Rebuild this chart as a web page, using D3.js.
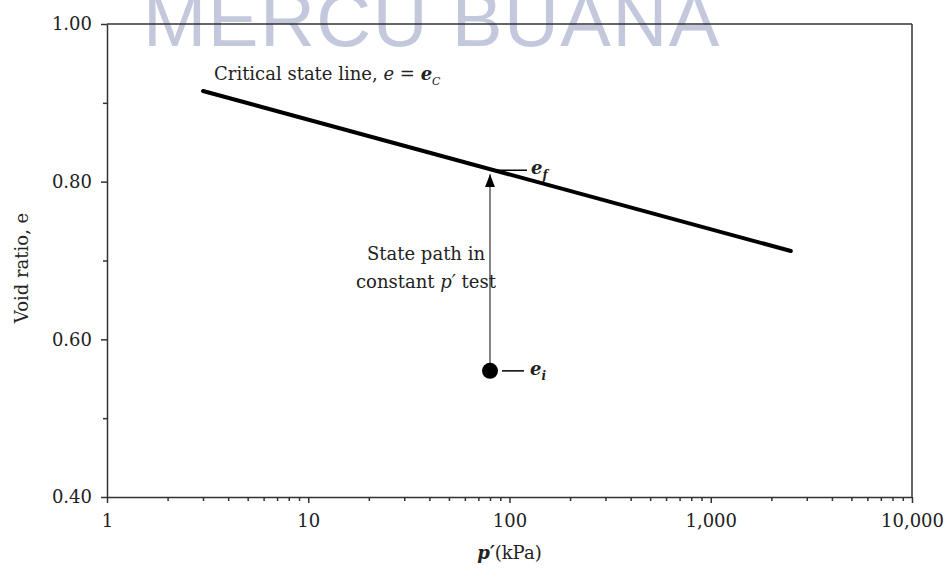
<!DOCTYPE html>
<html>
<head>
<meta charset="utf-8">
<script src="https://cdn.jsdelivr.net/npm/d3@7"></script>
<style>
  body { margin: 0; background: #fff; }
  svg text { font-family: "DejaVu Serif", "Liberation Serif", serif; fill: #222; }
</style>
</head>
<body>
<div id="container"></div>
<script>
// Critical state line (p' in kPa, void ratio e)
const cslP = [3, 2500];
const cslE = [0.915, 0.712];

// Constant p' test: initial state
const testP = 80;
const testE = 0.56;

// Axis ticks
const xTicks = [1, 10, 100, 1000, 10000];
const xTickLabels = ['1', '10', '100', '1,000', '10,000'];
const yTicks = [0.40, 0.60, 0.80, 1.00];
const yMinorTicks = [0.50, 0.70, 0.90];

const width = 949;
const height = 570;
const margin = { top: 24, right: 37, bottom: 73, left: 107 };
const fontSize = '18px';

const svg = d3.select('#container').append('svg')
    .attr('width', width)
    .attr('height', height);

// watermark (cut at the top edge, as in the source)
svg.append('text')
    .attr('x', 432)
    .attr('y', 46)
    .attr('text-anchor', 'middle')
    .style('font-family', '"Liberation Sans", Arial, sans-serif')
    .style('font-size', '76px')
    .style('fill', '#c4c8dd')
    .style('letter-spacing', '1.5px')
    .text('MERCU BUANA');

const xScale = d3.scaleLog()
    .domain([1, 10000])
    .range([margin.left, width - margin.right]);

const yScale = d3.scaleLinear()
    .domain([0.40, 1.00])
    .range([height - margin.bottom, margin.top]);

const axisColor = '#333';

// frame: top and right
svg.append('line')
    .attr('x1', margin.left).attr('x2', width - margin.right)
    .attr('y1', margin.top).attr('y2', margin.top)
    .attr('stroke', axisColor).attr('stroke-width', 1.5);
svg.append('line')
    .attr('x1', width - margin.right).attr('x2', width - margin.right)
    .attr('y1', margin.top).attr('y2', height - margin.bottom)
    .attr('stroke', axisColor).attr('stroke-width', 1.5);

// X axis with minor ticks
const minorX = [];
[1, 10, 100, 1000].forEach(d => { for (let k = 2; k <= 9; k++) minorX.push(d * k); });

svg.append('g')
    .attr('transform', 'translate(0,' + (height - margin.bottom) + ')')
    .call(d3.axisBottom(xScale).tickValues(minorX).tickSize(4).tickFormat(''))
    .call(g => g.select('.domain').remove())
    .selectAll('line').attr('stroke', axisColor).attr('stroke-width', 1.5);

const xAxis = svg.append('g')
    .attr('transform', 'translate(0,' + (height - margin.bottom) + ')')
    .call(d3.axisBottom(xScale).tickValues(xTicks).tickSize(6).tickSizeOuter(0)
        .tickPadding(11)
        .tickFormat((d, i) => xTickLabels[i]));
xAxis.select('.domain').attr('stroke', axisColor).attr('stroke-width', 1.5);
xAxis.selectAll('line').attr('stroke', axisColor).attr('stroke-width', 1.5);
xAxis.selectAll('text').style('font-size', fontSize).style('fill', '#222');

// Y axis with minor ticks
svg.append('g')
    .attr('transform', 'translate(' + margin.left + ',0)')
    .call(d3.axisLeft(yScale).tickValues(yMinorTicks).tickSize(4).tickFormat(''))
    .call(g => g.select('.domain').remove())
    .selectAll('line').attr('stroke', axisColor).attr('stroke-width', 1.5);

const yAxis = svg.append('g')
    .attr('transform', 'translate(' + margin.left + ',0)')
    .call(d3.axisLeft(yScale).tickValues(yTicks).tickSize(6).tickSizeOuter(0)
        .tickPadding(9)
        .tickFormat(d3.format('.2f')));
yAxis.select('.domain').attr('stroke', axisColor).attr('stroke-width', 1.5);
yAxis.selectAll('line').attr('stroke', axisColor).attr('stroke-width', 1.5);
yAxis.selectAll('text').style('font-size', fontSize).style('fill', '#222');

// Axis titles
const xTitle = svg.append('text')
    .attr('x', xScale(100))
    .attr('y', 559)
    .attr('text-anchor', 'middle')
    .style('font-size', fontSize);
xTitle.append('tspan').style('font-style', 'italic').style('font-weight', 'bold').text('p′');
xTitle.append('tspan').text('(kPa)');

svg.append('text')
    .attr('transform', 'rotate(-90)')
    .attr('x', -268)
    .attr('y', 28)
    .attr('text-anchor', 'middle')
    .style('font-size', fontSize)
    .text('Void ratio, e');

// Critical state line
const cslData = cslP.map((p, i) => [p, cslE[i]]);
svg.append('path')
    .datum(cslData)
    .attr('d', d3.line().x(d => xScale(d[0])).y(d => yScale(d[1])))
    .attr('fill', 'none')
    .attr('stroke', '#000')
    .attr('stroke-width', 4)
    .attr('stroke-linecap', 'round');

const cslLabel = svg.append('text')
    .attr('x', 214)
    .attr('y', 80)
    .style('font-size', fontSize);
cslLabel.append('tspan').text('Critical state line, ');
cslLabel.append('tspan').style('font-style', 'italic').text('e');
cslLabel.append('tspan').text(' = ');
cslLabel.append('tspan').style('font-style', 'italic').style('font-weight', 'bold').text('e');
cslLabel.append('tspan').attr('dy', 5).style('font-size', '11px').style('font-style', 'italic').text('C');

// final void ratio on the CSL at p' = testP
const slope = (cslE[1] - cslE[0]) / (Math.log10(cslP[1]) - Math.log10(cslP[0]));
const finalE = cslE[0] + slope * (Math.log10(testP) - Math.log10(cslP[0]));

// arrow head, pointing along the path direction
svg.append('defs').append('marker')
    .attr('id', 'arrow')
    .attr('viewBox', '0 0 13 10')
    .attr('refX', 13).attr('refY', 5)
    .attr('markerWidth', 13).attr('markerHeight', 10)
    .attr('markerUnits', 'userSpaceOnUse')
    .attr('orient', 'auto')
    .append('path')
    .attr('d', 'M0,0 L13,5 L0,10 Z')
    .attr('fill', '#000');

// State path
svg.append('line')
    .attr('x1', xScale(testP)).attr('x2', xScale(testP))
    .attr('y1', yScale(testE)).attr('y2', yScale(finalE) + 5)
    .attr('stroke', '#333')
    .attr('stroke-width', 1.2)
    .attr('marker-end', 'url(#arrow)');

svg.append('circle')
    .attr('cx', xScale(testP))
    .attr('cy', yScale(testE))
    .attr('r', 8)
    .attr('fill', '#000');

// e_f leader and label
svg.append('line')
    .attr('x1', xScale(testP) + 4).attr('x2', xScale(testP) + 37)
    .attr('y1', yScale(finalE) + 1).attr('y2', yScale(finalE) + 1)
    .attr('stroke', '#000').attr('stroke-width', 1.5);
const efLabel = svg.append('text')
    .attr('x', xScale(testP) + 41)
    .attr('y', yScale(finalE) + 5)
    .style('font-size', fontSize)
    .style('font-style', 'italic')
    .style('font-weight', 'bold');
efLabel.append('tspan').text('e');
efLabel.append('tspan').attr('dy', 5).style('font-size', '12px').text('f');

// e_i leader and label
svg.append('line')
    .attr('x1', xScale(testP) + 12).attr('x2', xScale(testP) + 34)
    .attr('y1', yScale(testE)).attr('y2', yScale(testE))
    .attr('stroke', '#000').attr('stroke-width', 1.5);
const eiLabel = svg.append('text')
    .attr('x', xScale(testP) + 40)
    .attr('y', yScale(testE) + 4)
    .style('font-size', fontSize)
    .style('font-style', 'italic')
    .style('font-weight', 'bold');
eiLabel.append('tspan').text('e');
eiLabel.append('tspan').attr('dy', 5).style('font-size', '12px').text('i');

// State path text
svg.append('text')
    .attr('x', 426).attr('y', 260)
    .attr('text-anchor', 'middle')
    .style('font-size', fontSize)
    .text('State path in');
const sp2 = svg.append('text')
    .attr('x', 426).attr('y', 288)
    .attr('text-anchor', 'middle')
    .style('font-size', fontSize);
sp2.append('tspan').text('constant ');
sp2.append('tspan').style('font-style', 'italic').text('p′');
sp2.append('tspan').text(' test');
</script>
</body>
</html>
